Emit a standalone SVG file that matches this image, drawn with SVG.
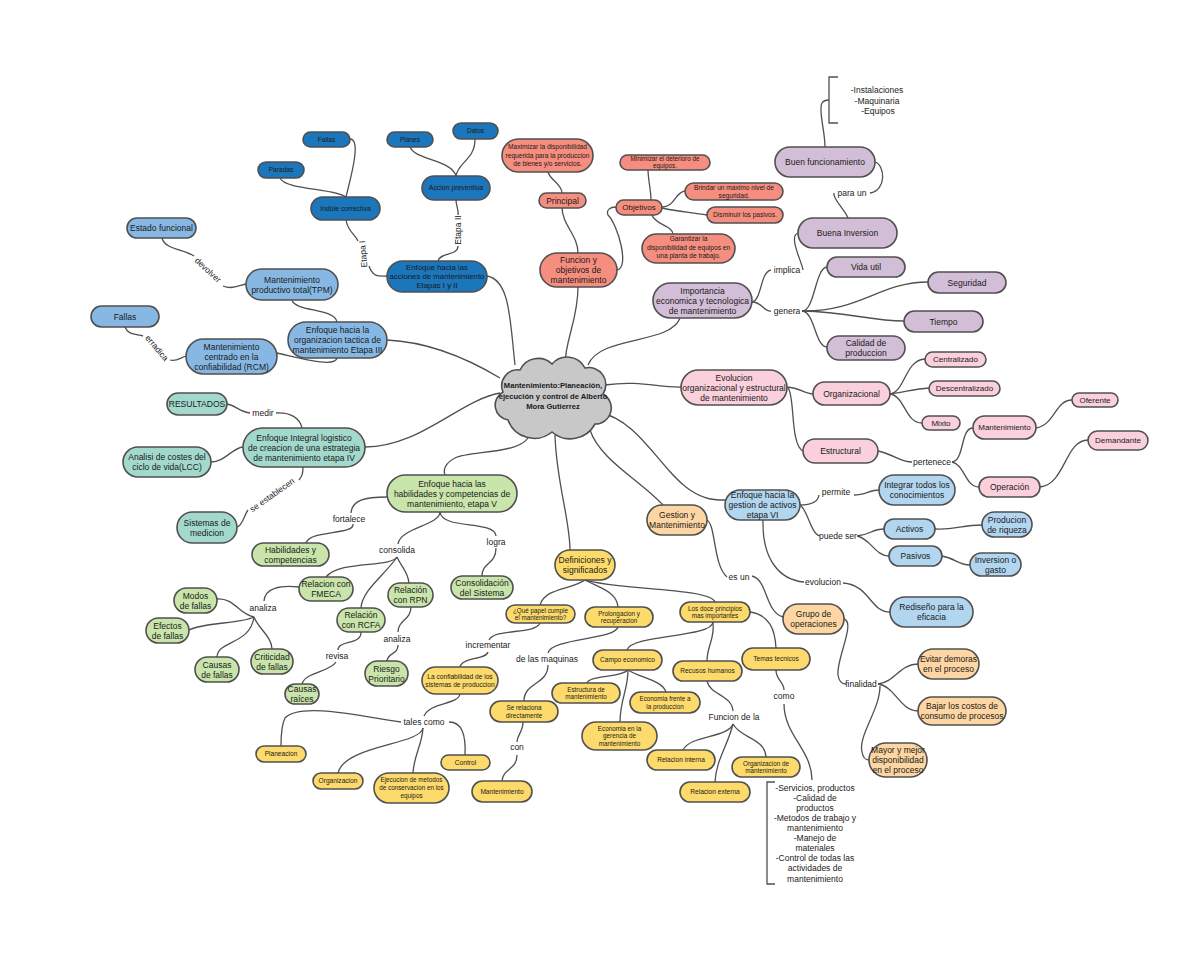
<svg xmlns="http://www.w3.org/2000/svg" width="1200" height="960" viewBox="0 0 1200 960">
<style>
.bg{fill:#ffffff}
rect{stroke:#505050;stroke-width:1.6}
.c{fill:none;stroke:#505050;stroke-width:1.3}
.t{font-family:"Liberation Sans",Arial,sans-serif;fill:#1a1a1a;text-anchor:middle}
.f6{font-size:6.3px}.f65{font-size:6.6px}.f7{font-size:6.9px}.f78{font-size:7.8px}.f8{font-size:8px}.f85{font-size:8.5px}
.lbl{font-family:"Liberation Sans",Arial,sans-serif;fill:#1a1a1a;font-size:8.5px;text-anchor:middle}
.db{fill:#1c76bc}.lb{fill:#87b8e4}.sa{fill:#f68e7f}.pu{fill:#d3bed7}.pk{fill:#f9d0dc}.lb2{fill:#b2d5f0}.or{fill:#fdd6a3}.gr{fill:#c9e5ab}.te{fill:#a3d9cd}.ye{fill:#fdda6c}
</style>
<rect class="bg" x="0" y="0" width="1200" height="960" style="stroke:none"/>
<g id="connectors">
<path class="c" d="M350,139 C362,139 350,180 346,197"/>
<path class="c" d="M280,178 C285,190 335,188 346,197"/>
<path class="c" d="M346,220 C348,232 355,234 358,241"/>
<path class="c" d="M369,266 C373,278 380,276 387,276"/>
<path class="c" d="M410,147 C415,160 452,160 456,176"/>
<path class="c" d="M475,139 C475,160 458,162 456,176"/>
<path class="c" d="M456,200 C456,206 459,210 458,215"/>
<path class="c" d="M458,246 C458,256 440,252 438,261"/>
<path class="c" d="M487,276 C510,280 510,320 515,365"/>
<path class="c" d="M162,238 C165,250 185,249 194,256"/>
<path class="c" d="M223,286 C232,290 240,285 246,284"/>
<path class="c" d="M292,300 C295,312 335,308 337,322"/>
<path class="c" d="M125,327 C128,335 135,334 143,336"/>
<path class="c" d="M170,360 C176,362 180,358 186,356"/>
<path class="c" d="M277,353 C300,358 335,368 337,358"/>
<path class="c" d="M387,340 C430,342 470,360 500,378"/>
<path class="c" d="M227,404 C235,405 240,412 250,413"/>
<path class="c" d="M276,413 C290,412 300,418 302,428"/>
<path class="c" d="M211,462 C225,462 232,448 243,447"/>
<path class="c" d="M303,467 C303,474 302,476 299,480"/>
<path class="c" d="M248,510 C244,515 243,525 237,527"/>
<path class="c" d="M365,447 C420,447 460,400 500,393"/>
<path class="c" d="M548,172 C550,180 562,184 562,193"/>
<path class="c" d="M562,207 C562,225 578,235 578,253"/>
<path class="c" d="M617,270 C630,268 618,225 608,215 C606,210 610,207 616,207"/>
<path class="c" d="M648,169 C648,180 651,190 651,200"/>
<path class="c" d="M662,207 C675,207 675,192 685,191"/>
<path class="c" d="M662,208 C680,212 690,212 707,215"/>
<path class="c" d="M652,215 C655,225 672,225 673,234"/>
<path class="c" d="M578,287 C578,320 565,340 565,365"/>
<path class="c" d="M825,147 C825,130 818,110 822,103 C824,100 826,100 829,100"/>
<path class="c" d="M875,162 C885,165 887,190 870,193"/>
<path class="c" d="M834,193 C832,198 845,210 848,218"/>
<path class="c" d="M798,233 C788,236 802,262 803,270"/>
<path class="c" d="M752,302 C762,300 760,272 771,270"/>
<path class="c" d="M752,302 C762,302 764,312 771,311"/>
<path class="c" d="M802,311 C815,311 815,268 827,267"/>
<path class="c" d="M802,311 C860,312 880,282 928,282"/>
<path class="c" d="M802,311 C850,312 870,321 904,321"/>
<path class="c" d="M802,311 C815,312 815,347 827,347"/>
<path class="c" d="M680,318 C670,345 600,335 588,365"/>
<path class="c" d="M605,385 C640,380 660,388 681,387"/>
<path class="c" d="M787,387 C800,388 805,394 813,394"/>
<path class="c" d="M788,388 C795,395 790,445 803,451"/>
<path class="c" d="M890,394 C905,392 905,360 925,359"/>
<path class="c" d="M890,394 C905,392 915,389 929,388"/>
<path class="c" d="M890,394 C905,396 905,423 922,423"/>
<path class="c" d="M878,451 C895,455 900,462 912,462"/>
<path class="c" d="M952,462 C965,460 960,428 973,428"/>
<path class="c" d="M952,462 C965,465 965,487 979,487"/>
<path class="c" d="M1036,428 C1055,425 1055,400 1072,400"/>
<path class="c" d="M1040,487 C1065,485 1065,440 1088,440"/>
<path class="c" d="M598,412 C640,420 660,470 690,490 C705,500 715,500 725,500"/>
<path class="c" d="M800,505 C812,505 818,502 819,495"/>
<path class="c" d="M854,495 C865,495 870,490 879,490"/>
<path class="c" d="M800,505 C808,510 810,533 820,536"/>
<path class="c" d="M857,536 C870,535 872,529 884,529"/>
<path class="c" d="M857,536 C870,538 875,556 889,556"/>
<path class="c" d="M935,529 C955,530 962,525 982,525"/>
<path class="c" d="M942,556 C955,558 958,565 970,565"/>
<path class="c" d="M763,520 C762,560 780,580 804,582"/>
<path class="c" d="M843,583 C870,585 870,612 890,612"/>
<path class="c" d="M590,430 C600,460 640,480 663,505"/>
<path class="c" d="M707,520 C716,525 713,565 727,577"/>
<path class="c" d="M752,576 C768,580 765,612 783,617"/>
<path class="c" d="M844,619 C856,622 836,660 838,675 C839,682 842,684 846,684"/>
<path class="c" d="M878,684 C895,682 900,664 918,664"/>
<path class="c" d="M878,684 C895,686 900,711 918,711"/>
<path class="c" d="M880,686 C880,710 858,735 862,752 C863,758 866,760 869,760"/>
<path class="c" d="M530,432 C528,455 470,450 455,458 C445,463 443,470 445,475"/>
<path class="c" d="M387,497 C365,497 352,500 351,513"/>
<path class="c" d="M353,524 C355,535 310,530 306,543"/>
<path class="c" d="M440,512 C440,525 400,528 398,544"/>
<path class="c" d="M440,512 C442,530 495,520 496,536"/>
<path class="c" d="M496,548 C496,565 482,562 482,576"/>
<path class="c" d="M397,557 C390,568 340,560 326,577"/>
<path class="c" d="M397,557 C385,575 362,590 361,608"/>
<path class="c" d="M397,557 C402,568 408,572 409,583"/>
<path class="c" d="M299,587 C280,585 265,588 264,601"/>
<path class="c" d="M217,599 C235,598 238,614 254,617"/>
<path class="c" d="M189,630 C205,622 240,624 254,617"/>
<path class="c" d="M217,657 C218,640 250,645 254,617"/>
<path class="c" d="M272,649 C272,637 258,628 254,617"/>
<path class="c" d="M361,632 C362,645 338,640 338,650"/>
<path class="c" d="M336,662 C330,672 305,672 302,684"/>
<path class="c" d="M411,607 C411,620 398,620 398,632"/>
<path class="c" d="M398,645 C398,655 388,652 387,661"/>
<path class="c" d="M555,435 C556,480 570,520 570,550"/>
<path class="c" d="M585,580 C570,590 545,588 540,605"/>
<path class="c" d="M585,580 C600,588 617,592 618,607"/>
<path class="c" d="M585,580 C620,590 710,588 715,602"/>
<path class="c" d="M540,623 C535,635 495,628 489,640"/>
<path class="c" d="M488,652 C486,660 462,657 460,667"/>
<path class="c" d="M618,627 C615,640 552,638 548,653"/>
<path class="c" d="M548,665 C548,685 524,682 524,701"/>
<path class="c" d="M523,722 C523,732 517,735 517,742"/>
<path class="c" d="M517,755 C517,770 503,768 502,781"/>
<path class="c" d="M460,694 C458,705 430,702 424,716"/>
<path class="c" d="M401,722 C360,716 300,702 285,718 C281,726 281,738 281,746"/>
<path class="c" d="M423,728 C420,745 345,745 338,773"/>
<path class="c" d="M423,728 C422,745 414,755 413,773"/>
<path class="c" d="M449,722 C462,722 466,735 465,755"/>
<path class="c" d="M713,622 C712,638 632,634 627,650"/>
<path class="c" d="M713,622 C715,640 707,645 707,661"/>
<path class="c" d="M750,612 C770,615 775,630 776,648"/>
<path class="c" d="M628,670 C620,678 590,675 587,683"/>
<path class="c" d="M628,670 C640,678 662,680 666,692"/>
<path class="c" d="M628,670 C628,690 620,700 620,722"/>
<path class="c" d="M707,681 C710,695 732,695 733,711"/>
<path class="c" d="M733,724 C728,738 690,735 683,750"/>
<path class="c" d="M733,724 C728,745 716,760 715,782"/>
<path class="c" d="M733,724 C740,738 765,738 766,757"/>
<path class="c" d="M776,670 C776,680 784,682 784,690"/>
<path class="c" d="M784,704 C784,735 812,750 812,780"/>
<path class="c" d="M838,77 H829 V123 H838"/>
<path class="c" d="M775,782 H767 V884 H775"/>
</g>
<g id="labels">
<text class="lbl" transform="translate(363,254) rotate(-95)" y="3">Etapa I</text>
<text class="lbl" transform="translate(458,230) rotate(-90)" y="3">Etapa II</text>
<text class="lbl" transform="translate(208,270) rotate(43)" y="3">devolver</text>
<text class="lbl" transform="translate(157,348) rotate(50)" y="3">erradica</text>
<text class="lbl" transform="translate(272,495) rotate(-35)" y="3">se establecen</text>
<text class="lbl" x="852" y="196">para un</text>
<text class="lbl" x="787" y="273">implica</text>
<text class="lbl" x="787" y="314">genera</text>
<text class="lbl" x="932" y="465">pertenece</text>
<text class="lbl" x="836" y="495">permite</text>
<text class="lbl" x="838" y="539">puede ser</text>
<text class="lbl" x="823" y="585">evolucion</text>
<text class="lbl" x="739" y="580">es un</text>
<text class="lbl" x="861" y="687">finalidad</text>
<text class="lbl" x="263" y="416">medir</text>
<text class="lbl" x="349" y="522">fortalece</text>
<text class="lbl" x="397" y="553">consolida</text>
<text class="lbl" x="496" y="545">logra</text>
<text class="lbl" x="263" y="611">analiza</text>
<text class="lbl" x="337" y="659">revisa</text>
<text class="lbl" x="397" y="642">analiza</text>
<text class="lbl" x="488" y="648">incrementar</text>
<text class="lbl" x="547" y="662">de las maquinas</text>
<text class="lbl" x="517" y="750">con</text>
<text class="lbl" x="734" y="720">Funcion de la</text>
<text class="lbl" x="784" y="699">como</text>
<text class="lbl" x="424" y="725">tales como</text>
<text class="lbl" x="877"><tspan x="877" y="93">-Instalaciones</tspan><tspan x="877" y="103.5">-Maquinaria</tspan><tspan x="878" y="114">-Equipos</tspan></text>
<text class="lbl" x="815"><tspan x="815" y="791">-Servicios, productos</tspan><tspan x="815" y="801">-Calidad de</tspan><tspan x="815" y="811">productos</tspan><tspan x="815" y="821">-Metodos de trabajo y</tspan><tspan x="815" y="831">mantenimiento</tspan><tspan x="815" y="841">-Manejo de</tspan><tspan x="815" y="851">materiales</tspan><tspan x="815" y="861">-Control de todas las</tspan><tspan x="815" y="871">actividades de</tspan><tspan x="815" y="882">mantenimiento</tspan></text>
</g>
<g id="center">
<path d="M508,420 A15,15 0 0 1 503,392 A16,16 0 0 1 520,370 A20,20 0 0 1 552,364 A20,20 0 0 1 585,368 A17,17 0 0 1 603,394 A16,16 0 0 1 595,424 A28,28 0 0 1 552,432 A28,28 0 0 1 508,420 Z" fill="#c8c8c8" stroke="#505050" stroke-width="1.6"/>
<text class="t" style="font-size:7.6px;font-weight:bold"><tspan x="553" y="388">Mantenimiento:Planeación,</tspan><tspan x="553" y="398.5">ejecución y control de Alberto</tspan><tspan x="553" y="408.5">Mora Gutierrez</tspan></text>
</g>
<g id="n-fallas1"><rect class="db" x="303" y="132" width="47" height="15" rx="7.5"/><text class="t f65" x="326.5" y="141.8">Fallas</text></g>
<g id="n-paradas"><rect class="db" x="258" y="162" width="46" height="16" rx="8"/><text class="t f65" x="281" y="172.3">Paradas</text></g>
<g id="n-indole"><rect class="db" x="311" y="197" width="69" height="23" rx="11.5"/><text class="t f7" x="345.5" y="210.9">Indole correctiva</text></g>
<g id="n-planes"><rect class="db" x="387" y="132" width="46" height="15" rx="7.5"/><text class="t f65" x="410" y="141.8">Planes</text></g>
<g id="n-datos"><rect class="db" x="453" y="123" width="45" height="16" rx="8"/><text class="t f65" x="475.5" y="133.3">Datos</text></g>
<g id="n-accion"><rect class="db" x="422" y="176" width="68" height="24" rx="12"/><text class="t f7" x="456" y="190.4">Accion preventiva</text></g>
<g id="n-enfoque12"><rect class="db" x="387" y="261" width="100" height="31" rx="15.5"/><text class="t f78"><tspan x="437" y="270.2">Enfoque hacia las</tspan><tspan x="437" y="279.2">acciones de mantenimiento</tspan><tspan x="437" y="288.2">Etapas I y II</tspan></text></g>
<g id="n-estado"><rect class="lb" x="127" y="218" width="69" height="20" rx="10"/><text class="t f85" x="161.5" y="231">Estado funcional</text></g>
<g id="n-tpm"><rect class="lb" x="246" y="269" width="92" height="31" rx="15.5"/><text class="t f85"><tspan x="292" y="282.5">Mantenimiento</tspan><tspan x="292" y="292.5">productivo total(TPM)</tspan></text></g>
<g id="n-fallas2"><rect class="lb" x="91" y="306" width="68" height="21" rx="10.5"/><text class="t f85" x="125" y="319.5">Fallas</text></g>
<g id="n-enfoque3"><rect class="lb" x="288" y="322" width="99" height="36" rx="18"/><text class="t f85"><tspan x="337.5" y="333">Enfoque hacia la</tspan><tspan x="337.5" y="343">organizacion tactica de</tspan><tspan x="337.5" y="353">mantenimiento Etapa III</tspan></text></g>
<g id="n-rcm"><rect class="lb" x="186" y="339" width="91" height="35" rx="17.5"/><text class="t f85"><tspan x="231.5" y="349.5">Mantenimiento</tspan><tspan x="231.5" y="359.5">centrado en la</tspan><tspan x="231.5" y="369.5">confiabilidad (RCM)</tspan></text></g>
<g id="n-maximizar"><rect class="sa" x="502" y="139" width="91" height="33" rx="16.5"/><text class="t f65"><tspan x="547.5" y="149.3">Maximizar la disponibilidad</tspan><tspan x="547.5" y="157.8">requerida para la produccion</tspan><tspan x="547.5" y="166.3">de bienes y/o servicios.</tspan></text></g>
<g id="n-principal"><rect class="sa" x="539" y="193" width="47" height="15" rx="7.5"/><text class="t f85" x="562.5" y="203.5">Principal</text></g>
<g id="n-funcion"><rect class="sa" x="540" y="253" width="77" height="34" rx="17"/><text class="t f85"><tspan x="578.5" y="263">Funcion y</tspan><tspan x="578.5" y="273">objetivos de</tspan><tspan x="578.5" y="283">mantenimiento</tspan></text></g>
<g id="n-objetivos"><rect class="sa" x="616" y="200" width="46" height="15" rx="7.5"/><text class="t f8" x="639" y="210.4">Objetivos</text></g>
<g id="n-minimizar"><rect class="sa" x="620" y="155" width="90" height="15" rx="7.5"/><text class="t f6"><tspan x="665" y="160.5">Minimizar el deterioro de</tspan><tspan x="665" y="167.5">equipos.</tspan></text></g>
<g id="n-brindar"><rect class="sa" x="685" y="183" width="98" height="17" rx="8.5"/><text class="t f65"><tspan x="734" y="189.7">Brindar un maximo nivel de</tspan><tspan x="734" y="197.8">seguridad.</tspan></text></g>
<g id="n-disminuir"><rect class="sa" x="707" y="207" width="76" height="16" rx="8"/><text class="t f65" x="745" y="217.3">Disminuir los pasivos.</text></g>
<g id="n-garantizar"><rect class="sa" x="642" y="234" width="93" height="29" rx="14.5"/><text class="t f65"><tspan x="688.5" y="241.3">Garantizar la</tspan><tspan x="688.5" y="249.8">disponibilidad de equipos en</tspan><tspan x="688.5" y="258.3">una planta de trabajo.</tspan></text></g>
<g id="n-buenfunc"><rect class="pu" x="775" y="147" width="100" height="30" rx="15"/><text class="t f85" x="825" y="165">Buen funcionamiento</text></g>
<g id="n-buenainv"><rect class="pu" x="798" y="218" width="99" height="30" rx="15"/><text class="t f85" x="847.5" y="236">Buena Inversion</text></g>
<g id="n-importancia"><rect class="pu" x="653" y="283" width="99" height="35" rx="17.5"/><text class="t f85"><tspan x="702.5" y="293.5">Importancia</tspan><tspan x="702.5" y="303.5">economica y tecnologica</tspan><tspan x="702.5" y="313.5">de mantenimiento</tspan></text></g>
<g id="n-vidautil"><rect class="pu" x="827" y="257" width="78" height="20" rx="10"/><text class="t f85" x="866" y="270">Vida util</text></g>
<g id="n-seguridad"><rect class="pu" x="928" y="272" width="78" height="21" rx="10.5"/><text class="t f85" x="967" y="285.5">Seguridad</text></g>
<g id="n-tiempo"><rect class="pu" x="904" y="311" width="79" height="21" rx="10.5"/><text class="t f85" x="943.5" y="324.5">Tiempo</text></g>
<g id="n-calidad"><rect class="pu" x="827" y="336" width="78" height="24" rx="12"/><text class="t f85"><tspan x="866" y="346">Calidad de</tspan><tspan x="866" y="356">produccion</tspan></text></g>
<g id="n-evolucion"><rect class="pk" x="681" y="370" width="106" height="35" rx="17.5"/><text class="t f85"><tspan x="734" y="380.5">Evolucion</tspan><tspan x="734" y="390.5">organizacional y estructural</tspan><tspan x="734" y="400.5">de mantenimiento</tspan></text></g>
<g id="n-organizacional"><rect class="pk" x="813" y="382" width="77" height="23" rx="11.5"/><text class="t f85" x="851.5" y="396.5">Organizacional</text></g>
<g id="n-centralizado"><rect class="pk" x="925" y="352" width="61" height="15" rx="7.5"/><text class="t f8" x="955.5" y="362.3">Centralizado</text></g>
<g id="n-descentralizado"><rect class="pk" x="929" y="381" width="71" height="15" rx="7.5"/><text class="t f8" x="964.5" y="391.3">Descentralizado</text></g>
<g id="n-mixto"><rect class="pk" x="922" y="416" width="38" height="14" rx="7"/><text class="t f8" x="941" y="425.8">Mixto</text></g>
<g id="n-estructural"><rect class="pk" x="803" y="439" width="75" height="24" rx="12"/><text class="t f85" x="840.5" y="454">Estructural</text></g>
<g id="n-mant-p"><rect class="pk" x="973" y="416" width="63" height="23" rx="11.5"/><text class="t f8" x="1004.5" y="430.3">Mantenimiento</text></g>
<g id="n-oferente"><rect class="pk" x="1072" y="393" width="46" height="14" rx="7"/><text class="t f8" x="1095" y="402.8">Oferente</text></g>
<g id="n-operacion"><rect class="pk" x="979" y="477" width="61" height="20" rx="10"/><text class="t f85" x="1009.5" y="490">Operación</text></g>
<g id="n-demandante"><rect class="pk" x="1088" y="431" width="60" height="19" rx="9.5"/><text class="t f8" x="1118" y="443.3">Demandante</text></g>
<g id="n-enfoque6"><rect class="lb2" x="725" y="490" width="75" height="30" rx="15"/><text class="t f85"><tspan x="762.5" y="498">Enfoque hacia la</tspan><tspan x="762.5" y="508">gestion de activos</tspan><tspan x="762.5" y="518">etapa VI</tspan></text></g>
<g id="n-integrar"><rect class="lb2" x="879" y="475" width="76" height="30" rx="15"/><text class="t f85"><tspan x="917" y="488">Integrar todos los</tspan><tspan x="917" y="498">conocimientos</tspan></text></g>
<g id="n-activos"><rect class="lb2" x="884" y="519" width="51" height="20" rx="10"/><text class="t f85" x="909.5" y="532">Activos</text></g>
<g id="n-pasivos"><rect class="lb2" x="889" y="546" width="53" height="20" rx="10"/><text class="t f85" x="915.5" y="559">Pasivos</text></g>
<g id="n-producion"><rect class="lb2" x="982" y="512" width="50" height="25" rx="12.5"/><text class="t f85"><tspan x="1007" y="522.5">Producion</tspan><tspan x="1007" y="532.5">de riqueza</tspan></text></g>
<g id="n-inversion"><rect class="lb2" x="970" y="553" width="51" height="23" rx="11.5"/><text class="t f85"><tspan x="995.5" y="562.5">Inversion o</tspan><tspan x="995.5" y="572.5">gasto</tspan></text></g>
<g id="n-rediseno"><rect class="lb2" x="890" y="597" width="83" height="30" rx="15"/><text class="t f85"><tspan x="931.5" y="610">Rediseño para la</tspan><tspan x="931.5" y="620">eficacia</tspan></text></g>
<g id="n-gestion"><rect class="or" x="647" y="505" width="60" height="30" rx="15"/><text class="t f85"><tspan x="677" y="518">Gestion y</tspan><tspan x="677" y="528">Mantenimiento</tspan></text></g>
<g id="n-grupo"><rect class="or" x="783" y="604" width="61" height="30" rx="15"/><text class="t f85"><tspan x="813.5" y="617">Grupo de</tspan><tspan x="813.5" y="627">operaciones</tspan></text></g>
<g id="n-evitar"><rect class="or" x="918" y="649" width="61" height="30" rx="15"/><text class="t f85"><tspan x="948.5" y="662">Evitar demoras</tspan><tspan x="948.5" y="672">en el proceso</tspan></text></g>
<g id="n-bajar"><rect class="or" x="918" y="697" width="88" height="28" rx="14"/><text class="t f85"><tspan x="962" y="709">Bajar los costos de</tspan><tspan x="962" y="719">consumo de procesos</tspan></text></g>
<g id="n-mayor"><rect class="or" x="869" y="743" width="58" height="34" rx="17"/><text class="t f85"><tspan x="898" y="753">Mayor y mejor</tspan><tspan x="898" y="763">disponibilidad</tspan><tspan x="898" y="773">en el proceso</tspan></text></g>
<g id="n-enfoque5"><rect class="gr" x="387" y="475" width="130" height="37" rx="18.5"/><text class="t f85"><tspan x="452" y="486.5">Enfoque hacia las</tspan><tspan x="452" y="496.5">habilidades y competencias de</tspan><tspan x="452" y="506.5">mantenimiento, etapa V</tspan></text></g>
<g id="n-habilidades"><rect class="gr" x="252" y="543" width="77" height="23" rx="11.5"/><text class="t f85"><tspan x="290.5" y="552.5">Habilidades y</tspan><tspan x="290.5" y="562.5">competencias</tspan></text></g>
<g id="n-consolidacion"><rect class="gr" x="451" y="576" width="62" height="23" rx="11.5"/><text class="t f85"><tspan x="482" y="585.5">Consolidación</tspan><tspan x="482" y="595.5">del Sistema</tspan></text></g>
<g id="n-fmeca"><rect class="gr" x="299" y="577" width="54" height="24" rx="12"/><text class="t f85"><tspan x="326" y="587">Relacion con</tspan><tspan x="326" y="597">FMECA</tspan></text></g>
<g id="n-rpn"><rect class="gr" x="388" y="583" width="45" height="24" rx="12"/><text class="t f85"><tspan x="410.5" y="593">Relación</tspan><tspan x="410.5" y="603">con RPN</tspan></text></g>
<g id="n-rcfa"><rect class="gr" x="337" y="608" width="48" height="24" rx="12"/><text class="t f85"><tspan x="361" y="618">Relación</tspan><tspan x="361" y="628">con RCFA</tspan></text></g>
<g id="n-modos"><rect class="gr" x="174" y="588" width="43" height="25" rx="12.5"/><text class="t f85"><tspan x="195.5" y="598.5">Modos</tspan><tspan x="195.5" y="608.5">de fallas</tspan></text></g>
<g id="n-efectos"><rect class="gr" x="146" y="618" width="43" height="25" rx="12.5"/><text class="t f85"><tspan x="167.5" y="628.5">Efectos</tspan><tspan x="167.5" y="638.5">de fallas</tspan></text></g>
<g id="n-causas"><rect class="gr" x="195" y="657" width="44" height="25" rx="12.5"/><text class="t f85"><tspan x="217" y="667.5">Causas</tspan><tspan x="217" y="677.5">de fallas</tspan></text></g>
<g id="n-criticidad"><rect class="gr" x="251" y="649" width="42" height="25" rx="12.5"/><text class="t f85"><tspan x="272" y="659.5">Criticidad</tspan><tspan x="272" y="669.5">de fallas</tspan></text></g>
<g id="n-causasraices"><rect class="gr" x="285" y="684" width="34" height="20" rx="10"/><text class="t f85"><tspan x="302" y="692">Causas</tspan><tspan x="302" y="702">raíces</tspan></text></g>
<g id="n-riesgo"><rect class="gr" x="365" y="661" width="43" height="25" rx="12.5"/><text class="t f85"><tspan x="386.5" y="671.5">Riesgo</tspan><tspan x="386.5" y="681.5">Prioritario</tspan></text></g>
<g id="n-resultados"><rect class="te" x="167" y="393" width="60" height="22" rx="11"/><text class="t f85" x="197" y="407">RESULTADOS</text></g>
<g id="n-enfoque4"><rect class="te" x="243" y="428" width="122" height="39" rx="19.5"/><text class="t f85"><tspan x="304" y="440.5">Enfoque Integral logistico</tspan><tspan x="304" y="450.5">de creacion de una estrategia</tspan><tspan x="304" y="460.5">de mantenimiento etapa IV</tspan></text></g>
<g id="n-lcc"><rect class="te" x="123" y="447" width="88" height="30" rx="15"/><text class="t f85"><tspan x="167" y="460">Analisi de costes del</tspan><tspan x="167" y="470">ciclo de vida(LCC)</tspan></text></g>
<g id="n-sistemas"><rect class="te" x="177" y="512" width="60" height="31" rx="15.5"/><text class="t f85"><tspan x="207" y="525.5">Sistemas de</tspan><tspan x="207" y="535.5">medicion</tspan></text></g>
<g id="n-definiciones"><rect class="ye" x="555" y="550" width="60" height="30" rx="15"/><text class="t f85"><tspan x="585" y="563">Definiciones y</tspan><tspan x="585" y="573">significados</tspan></text></g>
<g id="n-quepapel"><rect class="ye" x="506" y="605" width="69" height="18" rx="9"/><text class="t f6"><tspan x="540.5" y="612.5">¿Qué papel cumple</tspan><tspan x="540.5" y="620">el mantenimiento?</tspan></text></g>
<g id="n-prolongacion"><rect class="ye" x="585" y="607" width="68" height="20" rx="10"/><text class="t f6"><tspan x="619" y="615.5">Prolongacion y</tspan><tspan x="619" y="623">recuperacion</tspan></text></g>
<g id="n-losdoce"><rect class="ye" x="680" y="602" width="70" height="20" rx="10"/><text class="t f6"><tspan x="715" y="610.5">Los doce principios</tspan><tspan x="715" y="618">mas importantes</tspan></text></g>
<g id="n-confiabilidad"><rect class="ye" x="422" y="667" width="76" height="27" rx="13.5"/><text class="t f65"><tspan x="460" y="678.8">La confiabilidad de los</tspan><tspan x="460" y="686.8">sistemas de produccion</tspan></text></g>
<g id="n-serelaciona"><rect class="ye" x="490" y="701" width="68" height="21" rx="10.5"/><text class="t f6"><tspan x="524" y="710">Se relaciona</tspan><tspan x="524" y="717.5">directamente</tspan></text></g>
<g id="n-mant-y"><rect class="ye" x="472" y="781" width="60" height="21" rx="10.5"/><text class="t f65" x="502" y="793.8">Mantenimiento</text></g>
<g id="n-campo"><rect class="ye" x="593" y="650" width="69" height="20" rx="10"/><text class="t f65" x="627.5" y="662.3">Campo economico</text></g>
<g id="n-estructura"><rect class="ye" x="552" y="683" width="68" height="20" rx="10"/><text class="t f6"><tspan x="586" y="691.5">Estructura de</tspan><tspan x="586" y="699">mantenimiento</tspan></text></g>
<g id="n-economiafrente"><rect class="ye" x="630" y="692" width="70" height="21" rx="10.5"/><text class="t f6"><tspan x="665" y="701">Economia frente a</tspan><tspan x="665" y="708.5">la produccion</tspan></text></g>
<g id="n-economiagerencia"><rect class="ye" x="582" y="722" width="75" height="28" rx="14"/><text class="t f6"><tspan x="619.5" y="730.7">Economia en la</tspan><tspan x="619.5" y="738.2">gerencia de</tspan><tspan x="619.5" y="745.7">mantenimiento</tspan></text></g>
<g id="n-recursos"><rect class="ye" x="673" y="661" width="69" height="20" rx="10"/><text class="t f65" x="707.5" y="673.3">Recusos humanos</text></g>
<g id="n-temas"><rect class="ye" x="742" y="648" width="68" height="22" rx="11"/><text class="t f65" x="776" y="661.3">Temas tecnicos</text></g>
<g id="n-relinterna"><rect class="ye" x="647" y="750" width="68" height="20" rx="10"/><text class="t f65" x="681" y="762.3">Relacion interna</text></g>
<g id="n-orgmant"><rect class="ye" x="732" y="757" width="68" height="20" rx="10"/><text class="t f6"><tspan x="766" y="765.5">Organizacion de</tspan><tspan x="766" y="773">mantenimiento</tspan></text></g>
<g id="n-relexterna"><rect class="ye" x="680" y="782" width="70" height="20" rx="10"/><text class="t f65" x="715" y="794.3">Relacion externa</text></g>
<g id="n-planeacion"><rect class="ye" x="256" y="746" width="50" height="16" rx="8"/><text class="t f65" x="281" y="756.3">Planeacion</text></g>
<g id="n-organizacion"><rect class="ye" x="313" y="773" width="50" height="16" rx="8"/><text class="t f65" x="338" y="783.3">Organizacion</text></g>
<g id="n-ejecucion"><rect class="ye" x="374" y="773" width="75" height="30" rx="15"/><text class="t f6"><tspan x="411.5" y="782.2">Ejecucion de metodos</tspan><tspan x="411.5" y="790.2">de conservacion en los</tspan><tspan x="411.5" y="798.2">equipos</tspan></text></g>
<g id="n-control"><rect class="ye" x="441" y="755" width="49" height="15" rx="7.5"/><text class="t f65" x="465.5" y="764.8">Control</text></g>
</svg>
